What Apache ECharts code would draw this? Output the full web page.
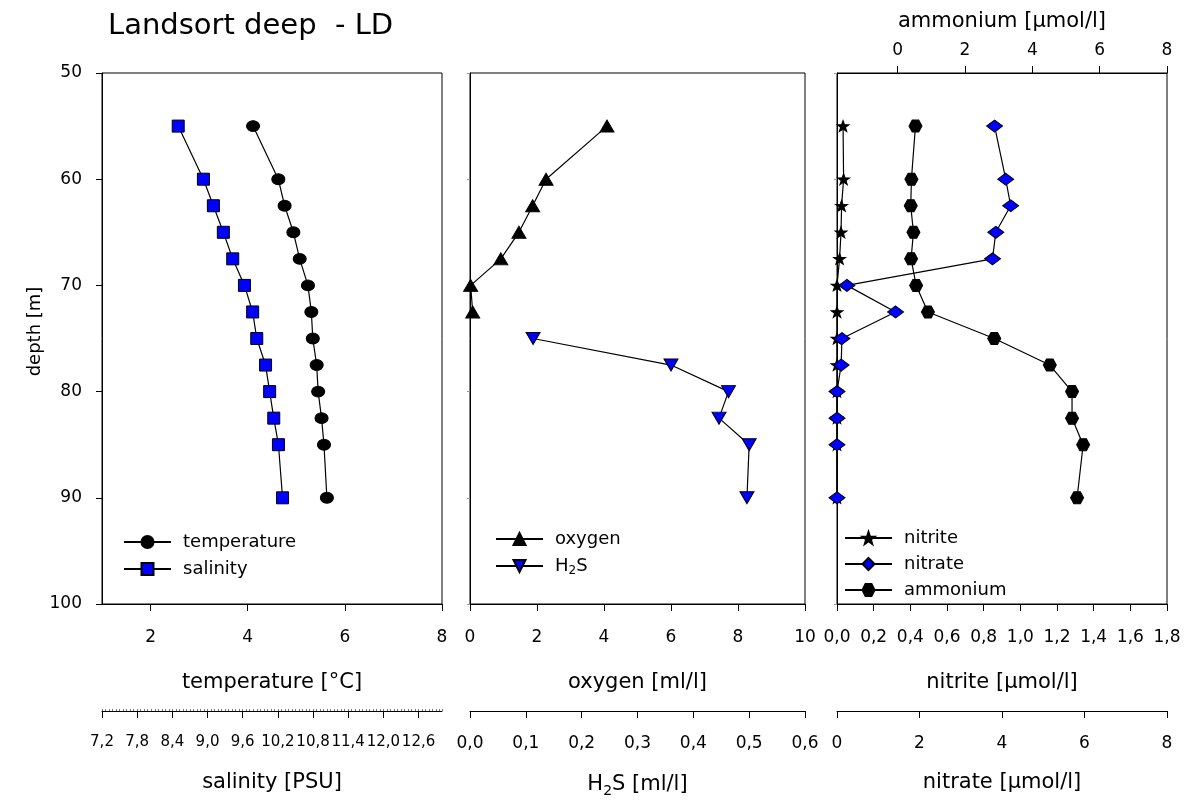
<!DOCTYPE html>
<html>
<head>
<meta charset="utf-8">
<title>Landsort deep - LD</title>
<script src="https://cdn.jsdelivr.net/npm/echarts@6/dist/echarts.min.js"></script>
<style>
  html, body { margin: 0; padding: 0; background: #fff; }
  #chart { width: 1189px; height: 803px; }
</style>
</head>
<body>
<div id="chart"></div>
<script>
// sample depths [m]
var depth = [55, 60, 62.5, 65, 67.5, 70, 72.5, 75, 77.5, 80, 82.5, 85, 90];
var temperature = [4.11, 4.63, 4.76, 4.94, 5.07, 5.24, 5.31, 5.34, 5.42, 5.45, 5.52, 5.57, 5.63];
var salinity = [8.50, 8.93, 9.10, 9.27, 9.43, 9.63, 9.77, 9.84, 9.99, 10.06, 10.13, 10.21, 10.28];

var oxygenDepth = [55, 60, 62.5, 65, 67.5, 70, 72.5];
var oxygen = [4.09, 2.27, 1.87, 1.46, 0.92, 0.02, 0.08];
var h2sDepth = [75, 77.5, 80, 82.5, 85, 90];
var h2s = [0.113, 0.360, 0.463, 0.446, 0.500, 0.496];

var nitrite = [0.033, 0.036, 0.025, 0.022, 0.014, 0, 0, 0, 0, 0, 0, 0, 0];
var nitrate = [3.82, 4.09, 4.21, 3.85, 3.77, 0.24, 1.42, 0.12, 0.10, 0, 0, 0, 0];
var ammonium = [0.53, 0.41, 0.39, 0.47, 0.40, 0.55, 0.90, 2.87, 4.52, 5.18, 5.18, 5.51, 5.33];

// tick labels that do not start at the axis minimum
var temperatureTicks = [2, 4, 6, 8];
var salinityTicks = [7.2, 7.8, 8.4, 9.0, 9.6, 10.2, 10.8, 11.4, 12.0, 12.6];
var ammoniumTicks = [0, 2, 4, 6, 8];

var FONT = "'DejaVu Sans', sans-serif";
var BLUE = '#0000ff';
var STAR = 'path://M0,-10L2.35,-3.24L9.51,-3.09L3.8,1.24L5.88,8.09L0,4L-5.88,8.09L-3.8,1.24L-9.51,-3.09L-2.35,-3.24Z';
var HEXAGON = 'path://M-10,0L-5,-8.66L5,-8.66L10,0L5,8.66L-5,8.66Z';
var DOWN_TRIANGLE = 'path://M0,0L10,0L5,8.66Z';

function pairs(xs, ys) {
    return xs.map(function (v, i) { return [v, ys[i]]; });
}
function comma(digits) {
    return function (v) { return v.toFixed(digits).replace('.', ','); };
}

var axisLine = { show: true, onZero: false, lineStyle: { color: '#000', width: 1 } };
var tickOut = { show: true, inside: false, length: 7, lineStyle: { color: '#000', width: 1 } };
var labelStyle = { color: '#000', fontFamily: FONT, fontSize: 17, margin: 25, showMinLabel: true, showMaxLabel: true };
var nameStyle = { color: '#000', fontFamily: FONT, fontSize: 21 };

function bottomAxis(grid, min, max, name, extra) {
    var ax = {
        type: 'value', gridIndex: grid, position: 'bottom', min: min, max: max,
        axisLine: axisLine, axisTick: Object.assign({}, tickOut),
        axisLabel: Object.assign({}, labelStyle), splitLine: { show: false },
        name: name, nameLocation: 'middle', nameGap: 68, nameTextStyle: nameStyle
    };
    return Object.assign(ax, extra || {});
}
// second row of bottom axes, drawn 107 px below the panel
var lowRow = { offset: 107, nameGap: 61 };
var lowLabel = Object.assign({}, labelStyle, { margin: 24 });

var xAxes = [
    bottomAxis(0, 1, 8, 'temperature [°C]', {
        axisTick: Object.assign({ customValues: temperatureTicks }, tickOut),
        axisLabel: Object.assign({ customValues: temperatureTicks }, labelStyle)
    }),
    bottomAxis(0, 7.2, 13.0, 'salinity [PSU]', Object.assign({
        axisTick: Object.assign({ customValues: salinityTicks }, tickOut),
        axisLabel: Object.assign({}, lowLabel, { customValues: salinityTicks, formatter: comma(1), fontSize: 15 })
    }, lowRow)),
    // fine salinity ticks
    {
        type: 'value', gridIndex: 0, position: 'bottom', offset: 107, min: 7.2, max: 13.0, interval: 0.06,
        axisLine: { show: false, onZero: false },
        axisTick: { show: true, inside: true, length: 2, lineStyle: { color: '#777', width: 1 } },
        axisLabel: { show: false }, splitLine: { show: false }
    },
    bottomAxis(1, 0, 10, 'oxygen [ml/l]', { interval: 2 }),
    bottomAxis(1, 0, 0.6, '{n|H}{s|2}{n|S [ml/l]}', Object.assign({
        interval: 0.1,
        axisLabel: Object.assign({ formatter: comma(1) }, lowLabel),
        nameTextStyle: {
            color: '#000',
            rich: {
                n: { fontFamily: FONT, fontSize: 21, lineHeight: 26, color: '#000' },
                s: { fontFamily: FONT, fontSize: 14, lineHeight: 14, verticalAlign: 'bottom', color: '#000' }
            }
        }
    }, lowRow)),
    bottomAxis(2, 0, 1.8, 'nitrite [µmol/l]', {
        interval: 0.2,
        axisLabel: Object.assign({ formatter: comma(1) }, labelStyle)
    }),
    bottomAxis(2, 0, 8, 'nitrate [µmol/l]', Object.assign({ interval: 2, axisLabel: lowLabel }, lowRow)),
    {
        type: 'value', gridIndex: 2, position: 'top', min: -1.8, max: 8,
        axisLine: axisLine,
        axisTick: Object.assign({ customValues: ammoniumTicks }, tickOut),
        axisLabel: Object.assign({}, labelStyle, { customValues: ammoniumTicks, margin: 14 }),
        splitLine: { show: false },
        name: 'ammonium [µmol/l]', nameLocation: 'middle', nameGap: 41, nameTextStyle: nameStyle
    }
];

function depthAxis(grid, labelled) {
    var ax = {
        type: 'value', gridIndex: grid, inverse: true, min: 50, max: 100, interval: 10,
        axisLine: axisLine, splitLine: { show: false },
        axisTick: { show: true, inside: false, length: labelled ? 6 : 3,
            lineStyle: { color: labelled ? '#000' : '#999', width: 1 } },
        axisLabel: { show: labelled, color: '#000', fontFamily: FONT, fontSize: 17, margin: 20 }
    };
    if (labelled) {
        ax.name = 'depth [m]';
        ax.nameLocation = 'middle';
        ax.nameGap = 58;
        // nudge the label a little above the axis middle
        ax.nameTextStyle = { color: '#000', fontFamily: FONT, fontSize: 18, padding: [0, 0, 0, 14] };
    }
    return ax;
}

function profile(name, x, y, data, symbol, size, fill) {
    return {
        name: name, type: 'line', xAxisIndex: x, yAxisIndex: y, data: data,
        symbol: symbol, symbolSize: size, showSymbol: true, showAllSymbol: true,
        lineStyle: { color: '#000', width: 1.2 },
        itemStyle: { color: fill, borderColor: '#000', borderWidth: 1 },
        emphasis: { disabled: true }
    };
}

function legendAt(left, top, gap, names) {
    return {
        orient: 'vertical', left: left, top: top, data: names,
        itemWidth: 47, itemHeight: 15, itemGap: gap, selectedMode: false,
        formatter: function (name) {
            return name === 'H2S' ? '{n|H}{s|2}{n|S}' : name;
        },
        textStyle: {
            color: '#000', fontFamily: FONT, fontSize: 18, padding: [0, 0, 0, 7],
            rich: {
                n: { fontFamily: FONT, fontSize: 18, lineHeight: 22, color: '#000' },
                s: { fontFamily: FONT, fontSize: 12, lineHeight: 12, verticalAlign: 'bottom', color: '#000' }
            }
        }
    };
}

var chart = echarts.init(document.getElementById('chart'));
chart.setOption({
    animation: false,
    backgroundColor: '#fff',
    title: {
        text: 'Landsort deep  - LD', left: 103, top: 7,
        textStyle: { color: '#000', fontFamily: FONT, fontSize: 29, fontWeight: 'normal' }
    },
    grid: [
        { left: 102, top: 73, width: 340, height: 531, show: true, borderColor: '#000', borderWidth: 1 },
        { left: 470, top: 73, width: 335, height: 531, show: true, borderColor: '#000', borderWidth: 1 },
        { left: 837, top: 73, width: 330, height: 531, show: true, borderColor: '#000', borderWidth: 1 }
    ],
    legend: [
        legendAt(118, 528, 9, ['temperature', 'salinity']),
        legendAt(490, 525, 9, ['oxygen', 'H2S']),
        legendAt(839, 524, 8, ['nitrite', 'nitrate', 'ammonium'])
    ],
    xAxis: xAxes,
    yAxis: [depthAxis(0, true), depthAxis(1, false), depthAxis(2, false)],
    series: [
        profile('temperature', 0, 0, pairs(temperature, depth), 'circle', [13, 11], '#000'),
        profile('salinity', 1, 0, pairs(salinity, depth), 'rect', [12, 12], BLUE),
        profile('oxygen', 3, 1, pairs(oxygen, oxygenDepth), 'triangle', [14, 12], '#000'),
        profile('H2S', 4, 1, pairs(h2s, h2sDepth), DOWN_TRIANGLE, [14, 12], BLUE),
        profile('nitrite', 5, 2, pairs(nitrite, depth), STAR, [12, 11], '#000'),
        profile('nitrate', 6, 2, pairs(nitrate, depth), 'diamond', [16, 12], BLUE),
        profile('ammonium', 7, 2, pairs(ammonium, depth), HEXAGON, [13, 12], '#000')
    ]
});
</script>
</body>
</html>
